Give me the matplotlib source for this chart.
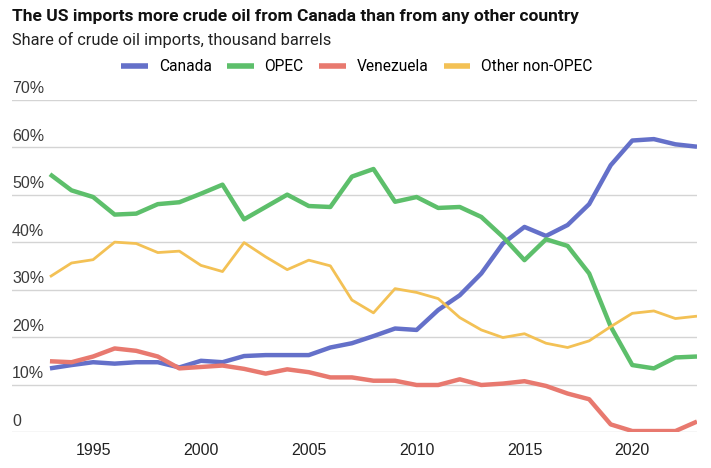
import matplotlib.pyplot as plt
from matplotlib import font_manager
import numpy as np

# data (share of US crude oil imports, %)
years = list(range(1993, 2024))
canada = [13.4, 14.1, 14.7, 14.4, 14.7, 14.7, 13.6, 15.0, 14.7, 16.0, 16.2, 16.2, 16.2, 17.8, 18.7,
          20.2, 21.8, 21.5, 25.7, 28.8, 33.4, 39.7, 43.2, 41.3, 43.6, 48.0, 56.2, 61.4, 61.7, 60.6, 60.1]
opec = [54.3, 50.9, 49.5, 45.8, 46.0, 48.0, 48.4, 50.2, 52.1, 44.8, 47.4, 50.0, 47.6, 47.4, 53.8,
        55.4, 48.5, 49.5, 47.2, 47.4, 45.3, 41.1, 36.2, 40.6, 39.2, 33.4, 22.2, 14.1, 13.4, 15.7, 15.9]
venezuela = [14.9, 14.7, 15.9, 17.6, 17.1, 15.9, 13.4, 13.7, 14.0, 13.3, 12.3, 13.2, 12.6, 11.5, 11.5,
             10.8, 10.8, 9.9, 9.9, 11.1, 9.9, 10.2, 10.7, 9.7, 8.1, 6.9, 1.6, 0.2, 0.2, 0.2, 2.2]
other = [32.7, 35.6, 36.3, 40.0, 39.7, 37.8, 38.1, 35.1, 33.8, 39.9, 36.9, 34.2, 36.2, 35.0, 27.8,
         25.1, 30.2, 29.4, 28.1, 24.1, 21.5, 19.9, 20.7, 18.7, 17.8, 19.2, 22.2, 25.0, 25.5, 23.9, 24.4]

yticks = [0, 10, 20, 30, 40, 50, 60, 70]
ylabels = ["0", "10%", "20%", "30%", "40%", "50%", "60%", "70%"]
xticks = [1995, 2000, 2005, 2010, 2015, 2020]

names = set(f.name for f in font_manager.fontManager.ttflist)
narrow = "Liberation Sans Narrow" if "Liberation Sans Narrow" in names else "Roboto"
plt.rcParams["font.family"] = ["Liberation Sans", "DejaVu Sans"]

fig = plt.figure(figsize=(7.11, 4.68), dpi=100)
ax = fig.add_axes([12 / 711, 36 / 468, 685 / 711, 332.3 / 468])

ax.plot(years, canada, color="#6470c9", lw=3.2, label="Canada", solid_capstyle="butt")
ax.plot(years, opec, color="#5dbf6b", lw=3.2, label="OPEC", solid_capstyle="butt")
ax.plot(years, venezuela, color="#e8796f", lw=3.2, label="Venezuela", solid_capstyle="butt")
ax.plot(years, other, color="#f3c155", lw=2.0, label="Other non-OPEC", solid_capstyle="butt")

ax.set_xlim(1991.24, 2023)
ax.set_ylim(0, 70)
for v in yticks:
    ax.axhline(v, color="#d4d4d4", lw=1.0, zorder=0)
for v, lab in zip(yticks, ylabels):
    ax.annotate(lab, xy=(0, v), xycoords=("axes fraction", "data"), xytext=(0, 2.5),
                textcoords="offset points", ha="left", va="bottom", fontsize=11.5, color="#3a3a3a")

ax.set_yticks([])
ax.set_xticks(xticks)
ax.set_xticklabels([str(x) for x in xticks], fontsize=11.5, color="#222222")
ax.tick_params(axis="x", length=0, pad=8)
for s in ax.spines.values():
    s.set_visible(False)

fig.text(12 / 711, 1 - 17 / 468, "The US imports more crude oil from Canada than from any other country",
         fontsize=12.5, fontweight="bold", family=[narrow, "DejaVu Sans"], va="center", ha="left", color="#111111")
fig.text(12 / 711, 1 - 40 / 468, "Share of crude oil imports, thousand barrels",
         fontsize=11.8, family=[narrow, "DejaVu Sans"], va="center", ha="left", color="#222222")

leg = fig.legend(loc="center", bbox_to_anchor=(357 / 711, 1 - 67 / 468), ncol=4, frameon=False,
                 handlelength=1.7, handletextpad=0.7, columnspacing=1.0,
                 prop={"family": [narrow, "DejaVu Sans"], "size": 11.2})
for h in leg.get_lines():
    h.set_linewidth(4)

fig.savefig("out.png", dpi=100)
